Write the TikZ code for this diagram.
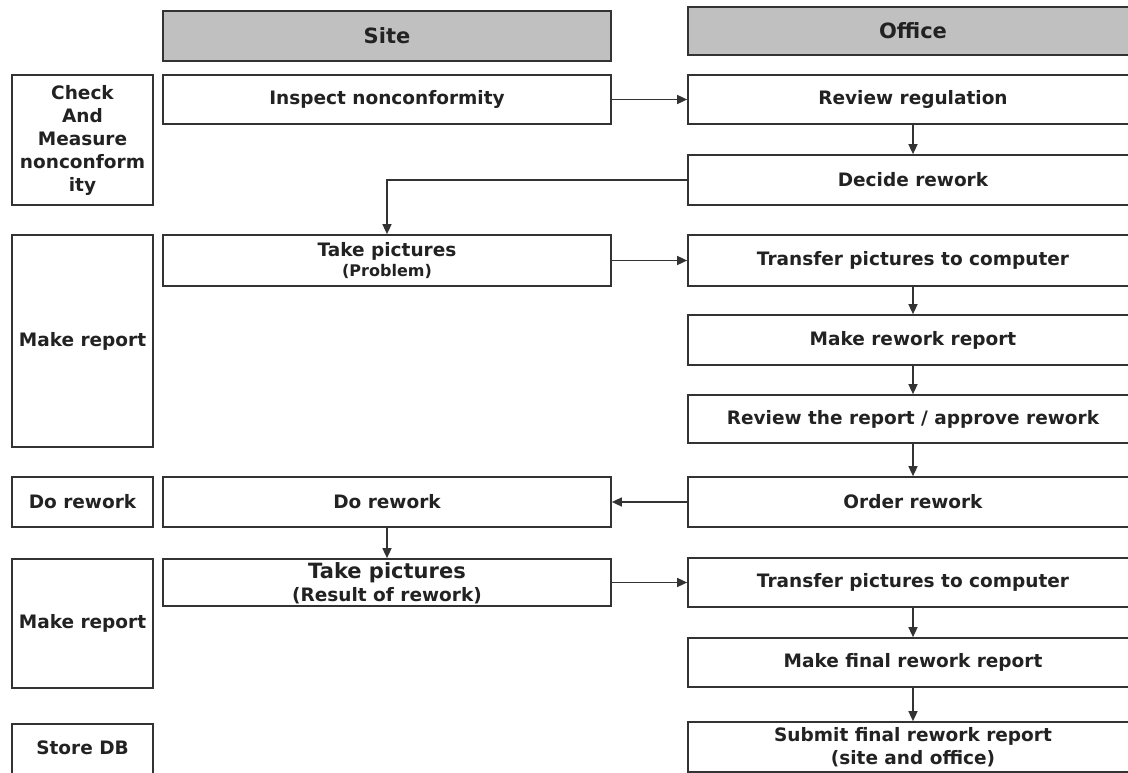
\documentclass[tikz,border=0pt]{standalone}
\usepackage{fontspec}
\setmainfont{DejaVu Sans}
\usetikzlibrary{arrows.meta}
\definecolor{edge}{HTML}{333333}
\definecolor{ink}{HTML}{222222}
\definecolor{headfill}{HTML}{C0C0C0}
\newcommand{\txt}{\fontsize{18.5}{23}\selectfont\bfseries}
\newcommand{\txtbig}{\fontsize{21}{24}\selectfont\bfseries}
\newcommand{\txtsmall}{\fontsize{16}{20}\selectfont\bfseries}
\begin{document}
\begin{tikzpicture}[x=1pt,y=-1pt,
  box/.style={draw=edge,line width=1.7pt,fill=white,rectangle,inner sep=0pt,
    align=center,text=ink,font=\txt},
  label/.style={inner sep=0pt,align=center,text=ink,font=\txt},
  head/.style={box,fill=headfill,font=\txtbig},
  sidebox/.style={box,minimum width=141pt},
  sitebox/.style={box,minimum width=448pt},
  officebox/.style={box,minimum width=450pt},
  flow/.style={draw=edge,line width=1.5pt,-{Triangle[length=10pt,width=9pt]}}]
\path[use as bounding box] (0,0) rectangle (1128,773);
\clip (0,0) rectangle (1128,773);

% column headers
\node[head,minimum width=448pt,minimum height=50pt] (site) at (387,36) {Site};
\node[head,minimum width=450pt,minimum height=48pt] (office) at (913,31) {Office};

% phase column
\node[sidebox,minimum height=130pt] (chk) at (82.5,140) {Check\\And\\Measure\\nonconform\\ity};
\node[sidebox,minimum height=212pt] (mr1) at (82.5,341) {Make report};
\node[sidebox,minimum height=50pt] (drw) at (82.5,502) {Do rework};
\node[sidebox,minimum height=129pt] (mr2) at (82.5,623.5) {Make report};
\node[sidebox,minimum height=56pt] (sdb) at (82.5,752) {};
\node[label] (sdbt) at (82.5,748) {Store DB};

% site column
\node[sitebox,minimum height=49pt] (insp) at (387,99.5) {Inspect nonconformity};
\node[sitebox,minimum height=51pt] (take1) at (387,260.5) {Take pictures\\[-3pt]{\txtsmall (Problem)}};
\node[sitebox,minimum height=50pt] (dor) at (387,502) {Do rework};
\node[sitebox,minimum height=47pt] (take2) at (387,582.5) {};
\node[label] (take2t) at (387,583) {{\txtbig Take pictures}\\(Result of rework)};

% office column
\node[officebox,minimum height=49pt] (rev) at (913,99.5) {Review regulation};
\node[officebox,minimum height=50pt] (dec) at (913,180) {Decide rework};
\node[officebox,minimum height=51pt] (tr1) at (913,260.5) {Transfer pictures to computer};
\node[officebox,minimum height=50pt] (mrr) at (913,340) {Make rework report};
\node[officebox,minimum height=48pt] (rtr) at (913,419) {Review the report / approve rework};
\node[officebox,minimum height=50pt] (ord) at (913,502) {Order rework};
\node[officebox,minimum height=49pt] (tr2) at (913,582.5) {Transfer pictures to computer};
\node[officebox,minimum height=49pt] (mfr) at (913,662.5) {Make final rework report};
\node[officebox,minimum height=50pt] (sub) at (913,747) {Submit final rework report\\(site and office)};

% connectors
\draw[flow] (insp.east) -- (rev.west);
\draw[flow] (rev.south) -- (dec.north);
\draw[flow] (dec.west) -| (take1.north);
\draw[flow] (take1.east) -- (tr1.west);
\draw[flow] (tr1.south) -- (mrr.north);
\draw[flow] (mrr.south) -- (rtr.north);
\draw[flow] (rtr.south) -- (ord.north);
\draw[flow] (ord.west) -- (dor.east);
\draw[flow] (dor.south) -- (take2.north);
\draw[flow] (take2.east) -- (tr2.west);
\draw[flow] (tr2.south) -- (mfr.north);
\draw[flow] (mfr.south) -- (sub.north);
\end{tikzpicture}
\end{document}
